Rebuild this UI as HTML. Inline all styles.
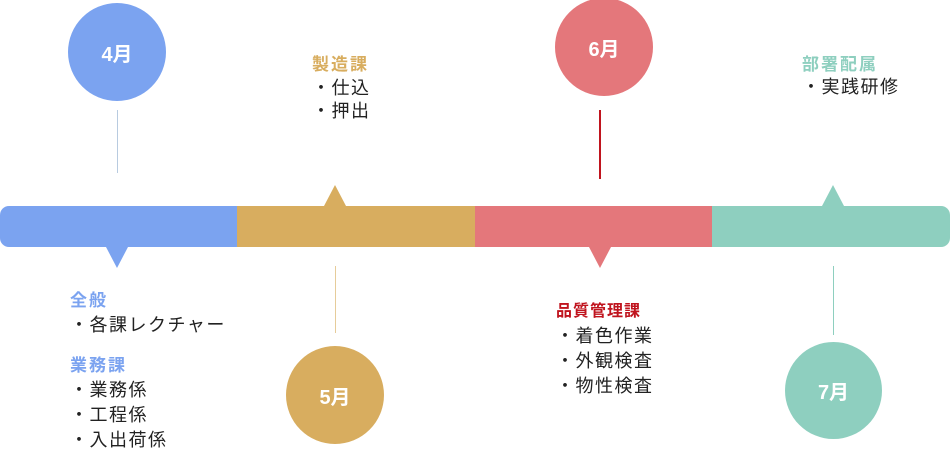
<!DOCTYPE html>
<html><head><meta charset="utf-8"><style>
body{margin:0;width:950px;height:456px;background:#fff;position:relative;overflow:hidden;font-family:"Liberation Sans","Noto Sans CJK JP",sans-serif}
.c{position:absolute;border-radius:50%;color:#fff;font-weight:bold;font-size:20px;display:flex;align-items:center;justify-content:center}
.l{position:absolute;width:1px}
.t{position:absolute;font-size:18px;letter-spacing:1.5px;line-height:25px;color:#222;white-space:nowrap}
.h{font-weight:bold;font-size:17px;letter-spacing:2px}
</style></head><body>
<div class="c" style="left:68px;top:3px;width:98px;height:98px;background:#7BA3F0">4月</div>
<div class="c" style="left:286px;top:346px;width:98px;height:98px;background:#D8AD5F">5月</div>
<div class="c" style="left:555px;top:-2px;width:98px;height:98px;background:#E4777B">6月</div>
<div class="c" style="left:785px;top:342px;width:97px;height:97px;background:#8ECFBF">7月</div>
<div class="l" style="left:117px;top:110px;height:63px;background:#b8cbe0"></div>
<div class="l" style="left:335px;top:266px;height:67px;background:#e6cc9a"></div>
<div class="l" style="left:599px;top:110px;height:69px;background:#c0141e;width:2px"></div>
<div class="l" style="left:833px;top:266px;height:69px;background:#8ECFBF"></div>
<svg style="position:absolute;left:0;top:0" width="950" height="456">
<defs><clipPath id="r"><rect x="0" y="206" width="950" height="41" rx="9"/></clipPath></defs>
<g clip-path="url(#r)">
<rect x="0" y="206" width="238" height="41" fill="#7BA3F0"/>
<rect x="237" y="206" width="238" height="41" fill="#D8AD5F"/>
<rect x="475" y="206" width="238" height="41" fill="#E4777B"/>
<rect x="712" y="206" width="238" height="41" fill="#8ECFBF"/>
</g>
<polygon points="106,247 128,247 117,268" fill="#7BA3F0"/>
<polygon points="324,206 346,206 335,185" fill="#D8AD5F"/>
<polygon points="589,247 611,247 600,268" fill="#E4777B"/>
<polygon points="822,206 844,206 833,185" fill="#8ECFBF"/>
</svg>
<div class="t" style="left:70px;top:288px"><span class="h" style="color:#7BA3F0">全般</span><br>・各課レクチャー</div>
<div class="t" style="left:70px;top:353px"><span class="h" style="color:#7BA3F0">業務課</span><br>・業務係<br>・工程係<br>・入出荷係</div>
<div class="t" style="left:312px;top:53px;line-height:23.5px"><span class="h" style="color:#D8AD5F">製造課</span><br>・仕込<br>・押出</div>
<div class="t" style="left:556px;top:298px"><span class="h" style="color:#c0141e;font-size:16px;letter-spacing:1px">品質管理課</span><br>・着色作業<br>・外観検査<br>・物性検査</div>
<div class="t" style="left:802px;top:53px;line-height:23px"><span class="h" style="color:#8ECFBF">部署配属</span><br>・実践研修</div>
</body></html>
